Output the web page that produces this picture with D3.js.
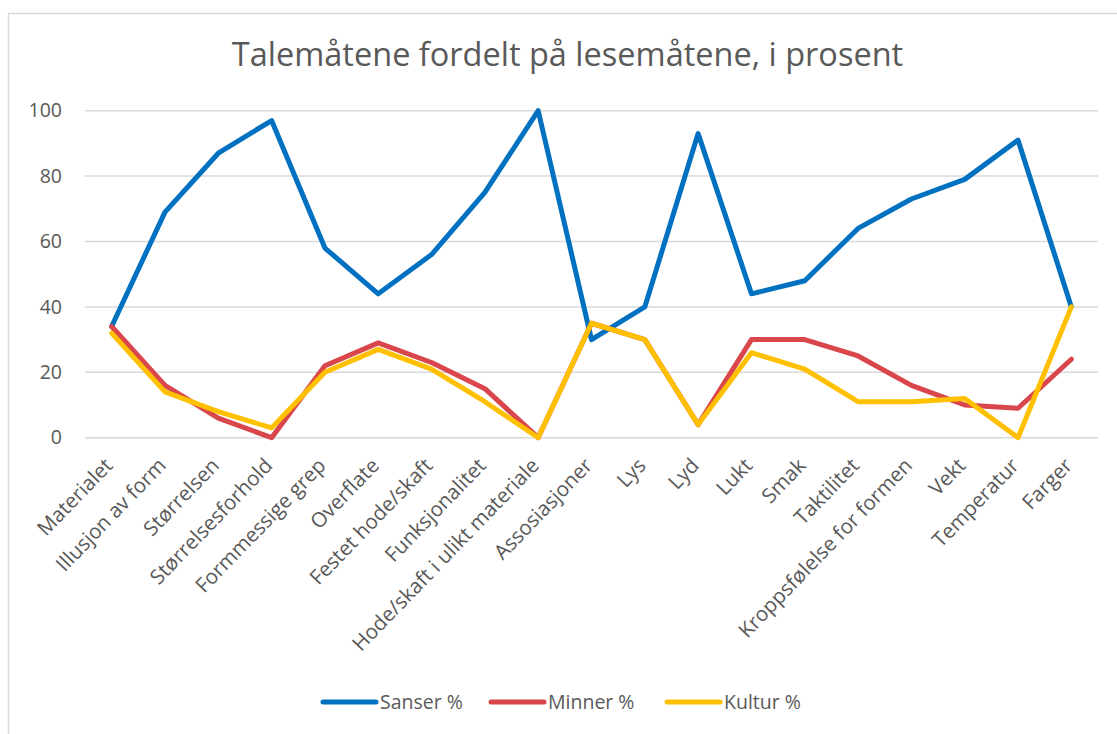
<!DOCTYPE html>
<html>
<head>
<meta charset="utf-8">
<script src="https://cdn.jsdelivr.net/npm/d3@7"></script>
<style>
  html, body { margin: 0; padding: 0; background: #fff; }
  svg { display: block; font-family: "Open Sans", "Liberation Sans", sans-serif; }
</style>
</head>
<body>
<svg id="chart" width="1117" height="734"></svg>
<script>
// Kategorier (talemåter)
const categories = [
  "Materialet", "Illusjon av form", "Størrelsen", "Størrelsesforhold",
  "Formmessige grep", "Overflate", "Festet hode/skaft", "Funksjonalitet",
  "Hode/skaft i ulikt materiale", "Assosiasjoner", "Lys", "Lyd", "Lukt",
  "Smak", "Taktilitet", "Kroppsfølelse for formen", "Vekt", "Temperatur", "Farger"
];

// Prosentverdier per lesemåte
const sanser = [34, 69, 87, 97, 58, 44, 56, 75, 100, 30, 40, 93, 44, 48, 64, 73, 79, 91, 40];
const minner = [34, 16, 6, 0, 22, 29, 23, 15, 0, 35, 30, 4, 30, 30, 25, 16, 10, 9, 24];
const kultur = [32, 14, 8, 3, 20, 27, 21, 11, 0, 35, 30, 4, 26, 21, 11, 11, 12, 0, 40];

const yTicks = [0, 20, 40, 60, 80, 100];

const seriesNames = ["Sanser %", "Minner %", "Kultur %"];
const seriesColors = ["#0070C0", "#D9464B", "#FFC000"];

const series = [sanser, minner, kultur].map((values, i) => ({
  name: seriesNames[i],
  color: seriesColors[i],
  values
}));

const svg = d3.select("#chart");
const W = 1117, H = 734;
const textColor = "#595959";

// Chart frame
svg.append("rect")
  .attr("x", 8.5).attr("y", 13.5)
  .attr("width", W + 20).attr("height", H + 20)
  .attr("fill", "#fff")
  .attr("stroke", "#d9d9d9")
  .attr("stroke-width", 1.5);

// Title
svg.append("text")
  .attr("x", 567.5).attr("y", 66)
  .attr("text-anchor", "middle")
  .attr("fill", textColor)
  .attr("font-size", 32.5)
  .text("Talemåtene fordelt på lesemåtene, i prosent");

const plot = { left: 85, right: 1098, top: 110.7, bottom: 437.7 };

const x = d3.scaleBand()
  .domain(categories)
  .range([plot.left, plot.right])
  .padding(0);

const y = d3.scaleLinear()
  .domain([0, 100])
  .range([plot.bottom, plot.top]);

const cx = c => x(c) + x.bandwidth() / 2;

// Gridlines
svg.append("g")
  .selectAll("line")
  .data(yTicks)
  .join("line")
  .attr("x1", plot.left).attr("x2", plot.right)
  .attr("y1", d => y(d)).attr("y2", d => y(d))
  .attr("stroke", "#d9d9d9")
  .attr("stroke-width", 1.5);

// Y axis labels
const yAxis = d3.axisLeft(y).tickValues(yTicks).tickSize(0).tickPadding(0);
const gy = svg.append("g")
  .attr("transform", `translate(${62},0)`)
  .call(yAxis);
gy.select(".domain").remove();
gy.selectAll("text")
  .attr("fill", textColor)
  .attr("font-size", 19.5)
  .attr("font-family", "'Open Sans', 'Liberation Sans', sans-serif");

// X axis labels (rotated)
const xAxis = d3.axisBottom(x).tickSize(0).tickPadding(0);
const gx = svg.append("g")
  .attr("transform", `translate(0,${plot.bottom})`)
  .call(xAxis);
gx.select(".domain").remove();
gx.selectAll(".tick text")
  .attr("fill", textColor)
  .attr("font-size", 20.5)
  .attr("font-family", "'Open Sans', 'Liberation Sans', sans-serif")
  .attr("text-anchor", "end")
  .attr("y", 0)
  .attr("dy", "0.35em")
  .attr("transform", "translate(-3,24) rotate(-46)");

// Lines
const line = d3.line()
  .x((d, i) => cx(categories[i]))
  .y(d => y(d));

svg.append("g")
  .selectAll("path")
  .data(series)
  .join("path")
  .attr("d", d => line(d.values))
  .attr("fill", "none")
  .attr("stroke", d => d.color)
  .attr("stroke-width", 5)
  .attr("stroke-linejoin", "round")
  .attr("stroke-linecap", "round");

// Legend
const legendX = [323, 491, 667];
const legendY = 702;
const lg = svg.append("g")
  .selectAll("g")
  .data(series)
  .join("g")
  .attr("transform", (d, i) => `translate(${legendX[i]},${legendY})`);
lg.append("line")
  .attr("x1", 0).attr("x2", 53)
  .attr("y1", 0).attr("y2", 0)
  .attr("stroke", d => d.color)
  .attr("stroke-width", 5)
  .attr("stroke-linecap", "round");
lg.append("text")
  .attr("x", 57).attr("y", 0)
  .attr("dy", "0.35em")
  .attr("fill", textColor)
  .attr("font-size", 19.5)
  .text(d => d.name);
</script>
</body>
</html>
